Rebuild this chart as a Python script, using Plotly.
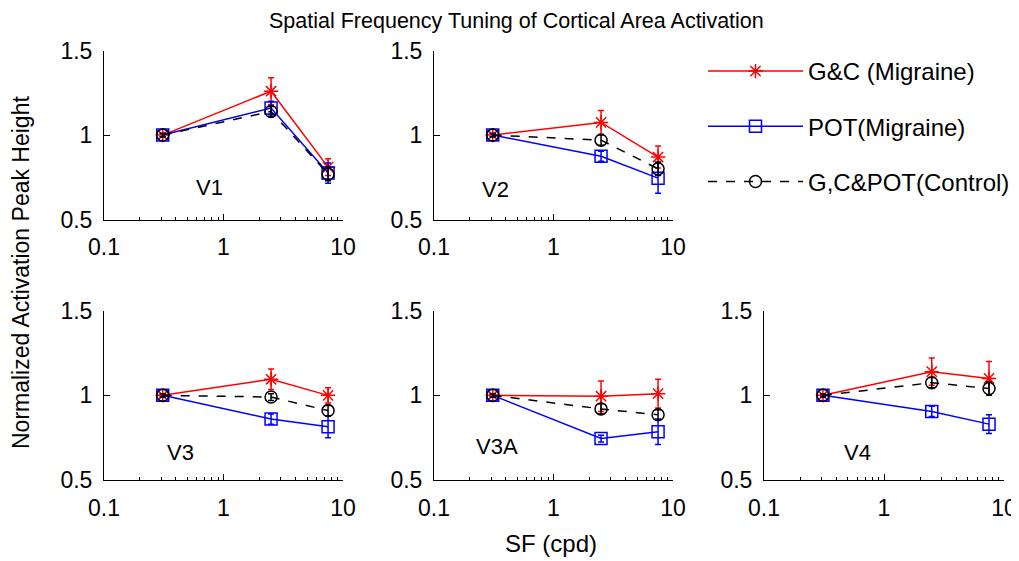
import math
import plotly.graph_objects as go

# ---- data ----
sf = [0.31, 2.5, 7.5]
areas = ["V1", "V2", "V3", "V3A", "V4"]

gc_vals = {
    "V1": [1.0, 1.26, 0.81],
    "V2": [1.0, 1.075, 0.87],
    "V3": [1.0, 1.095, 1.0],
    "V3A": [1.0, 0.995, 1.01],
    "V4": [1.0, 1.14, 1.10],
}
gc_err = {
    "V1": [0.01, 0.08, 0.05],
    "V2": [0.01, 0.07, 0.065],
    "V3": [0.01, 0.06, 0.045],
    "V3A": [0.01, 0.09, 0.085],
    "V4": [0.01, 0.08, 0.10],
}
pot_vals = {
    "V1": [1.0, 1.16, 0.775],
    "V2": [1.0, 0.875, 0.745],
    "V3": [1.0, 0.86, 0.815],
    "V3A": [1.0, 0.745, 0.785],
    "V4": [1.0, 0.905, 0.83],
}
pot_err = {
    "V1": [0.01, 0.04, 0.06],
    "V2": [0.01, 0.03, 0.09],
    "V3": [0.01, 0.03, 0.065],
    "V3A": [0.01, 0.02, 0.075],
    "V4": [0.01, 0.03, 0.055],
}
ctrl_vals = {
    "V1": [1.0, 1.14, 0.77],
    "V2": [1.0, 0.97, 0.80],
    "V3": [1.0, 0.99, 0.91],
    "V3A": [1.0, 0.92, 0.885],
    "V4": [1.0, 1.075, 1.04],
}
ctrl_err = {
    "V1": [0.01, 0.03, 0.04],
    "V2": [0.01, 0.03, 0.04],
    "V3": [0.01, 0.02, 0.03],
    "V3A": [0.01, 0.03, 0.03],
    "V4": [0.01, 0.03, 0.04],
}
series_names = ["G&C (Migraine)", "POT(Migraine)", "G,C&POT(Control)"]
x_tickvals = [0.1, 1, 10]
x_ticktext = ["0.1", "1", "10"]
x_minor = [0.2, 0.3, 0.4, 0.5, 0.6, 0.7, 0.8, 0.9, 2, 3, 4, 5, 6, 7, 8, 9]
y_tickvals = [0.5, 1, 1.5]
y_ticktext = ["0.5", "1", "1.5"]
label_pos = {"V1": (0.77, 0.69), "V2": (0.33, 0.68), "V3": (0.44, 0.66),
             "V3A": (0.336, 0.696), "V4": (0.605, 0.66)}

# ---- layout geometry (window pixels -> paper) ----
# the page body has an 8px margin, so the figure starts at (8, 8)
OFF = 8
WIN_W, WIN_H = 1019, 561
W, H = WIN_W - OFF, WIN_H - OFF


def px_x(p):
    return (p - OFF) / W


def px_y(p):
    return 1 - (p - OFF) / H


FONT = "Liberation Sans, Arial, Helvetica, sans-serif"
col_px = {0: (104, 343), 1: (434, 673), 2: (764, 1004)}
row_px = {0: (50.7, 219.5), 1: (310.7, 480)}
panel_cell = {"V1": (0, 0), "V2": (0, 1), "V3": (1, 0), "V3A": (1, 1), "V4": (1, 2)}
TICK_FS = 23

fig = go.Figure()
layout = dict(
    template="none",
    width=W, height=H,
    margin=dict(l=0, r=0, t=0, b=0, pad=0, autoexpand=False),
    paper_bgcolor="white", plot_bgcolor="white",
    font=dict(family=FONT, size=22, color="black"),
    showlegend=True,
    legend=dict(x=px_x(703), y=px_y(49), xanchor="left", yanchor="top",
                font=dict(size=24, family=FONT), traceorder="grouped",
                itemwidth=95,
                tracegroupgap=21, bgcolor="rgba(0,0,0,0)", borderwidth=0),
    annotations=[],
)

styles = [
    dict(color="#ff0000", dash="solid", symbol="asterisk-open"),
    dict(color="#0000ff", dash="solid", symbol="square-open"),
    dict(color="#000000", dash="dash", symbol="circle-open"),
]

for i, area in enumerate(areas):
    r, c = panel_cell[area]
    xa = "x" if i == 0 else f"x{i+1}"
    ya = "y" if i == 0 else f"y{i+1}"
    xkey = "xaxis" if i == 0 else f"xaxis{i+1}"
    ykey = "yaxis" if i == 0 else f"yaxis{i+1}"
    x0, x1 = col_px[c]
    y0, y1 = row_px[r]
    layout[xkey] = dict(
        type="log", range=[-1, 1], domain=[px_x(x0), px_x(x1)], anchor=ya,
        automargin=False,
        showline=True, linecolor="black", linewidth=1, mirror=False,
        showgrid=False, zeroline=False,
        ticks="inside", ticklen=6, tickwidth=1, tickcolor="black",
        tickvals=x_tickvals, ticktext=x_ticktext,
        tickfont=dict(size=TICK_FS, family=FONT),
        ticklabelstandoff=7,
        minor=dict(ticks="inside", ticklen=3, tickwidth=1, tickcolor="black",
                   tickvals=x_minor, showgrid=False),
    )
    layout[ykey] = dict(
        range=[0.5, 1.5], domain=[px_y(y1), px_y(y0)], anchor=xa,
        automargin=False,
        showline=True, linecolor="black", linewidth=1, mirror=False,
        showgrid=False, zeroline=False,
        ticks="inside", ticklen=6, tickwidth=1, tickcolor="black",
        tickvals=y_tickvals, ticktext=y_ticktext,
        tickfont=dict(size=TICK_FS, family=FONT),
        ticklabelstandoff=6,
    )
    data_sets = [(gc_vals[area], gc_err[area]), (pot_vals[area], pot_err[area]),
                 (ctrl_vals[area], ctrl_err[area])]
    for k, ((vals, errs), st) in enumerate(zip(data_sets, styles)):
        fig.add_trace(go.Scatter(
            x=sf, y=vals, xaxis=xa, yaxis=ya,
            mode="lines+markers",
            name=series_names[k], legendgroup=series_names[k],
            showlegend=(i == 0),
            line=dict(color=st["color"], width=1.5, dash=st["dash"]),
            marker=dict(symbol=st["symbol"], size=12, color=st["color"],
                        line=dict(color=st["color"], width=1.5)),
            error_y=dict(type="data", array=errs, visible=True,
                         color=st["color"], thickness=1.5, width=3),
        ))
    lx, ly = label_pos[area]
    layout["annotations"].append(dict(
        x=math.log10(lx), y=ly, xref=xa, yref=ya, text=area, showarrow=False,
        font=dict(size=22, family=FONT), xanchor="center", yanchor="middle"))

layout["annotations"] += [
    dict(x=px_x(516), y=px_y(21), xref="paper", yref="paper",
         text="Spatial Frequency Tuning of Cortical Area Activation",
         showarrow=False, font=dict(size=21.5, family=FONT),
         xanchor="center", yanchor="middle"),
    dict(x=px_x(551), y=px_y(543), xref="paper", yref="paper",
         text="SF (cpd)", showarrow=False, font=dict(size=24, family=FONT),
         xanchor="center", yanchor="middle"),
    dict(x=px_x(21), y=px_y(273), xref="paper", yref="paper",
         text="Normalized Activation Peak Height", showarrow=False,
         textangle=-90, font=dict(size=23, family=FONT),
         xanchor="center", yanchor="middle"),
]

fig.update_layout(**layout)
fig.write_html("out.html")
